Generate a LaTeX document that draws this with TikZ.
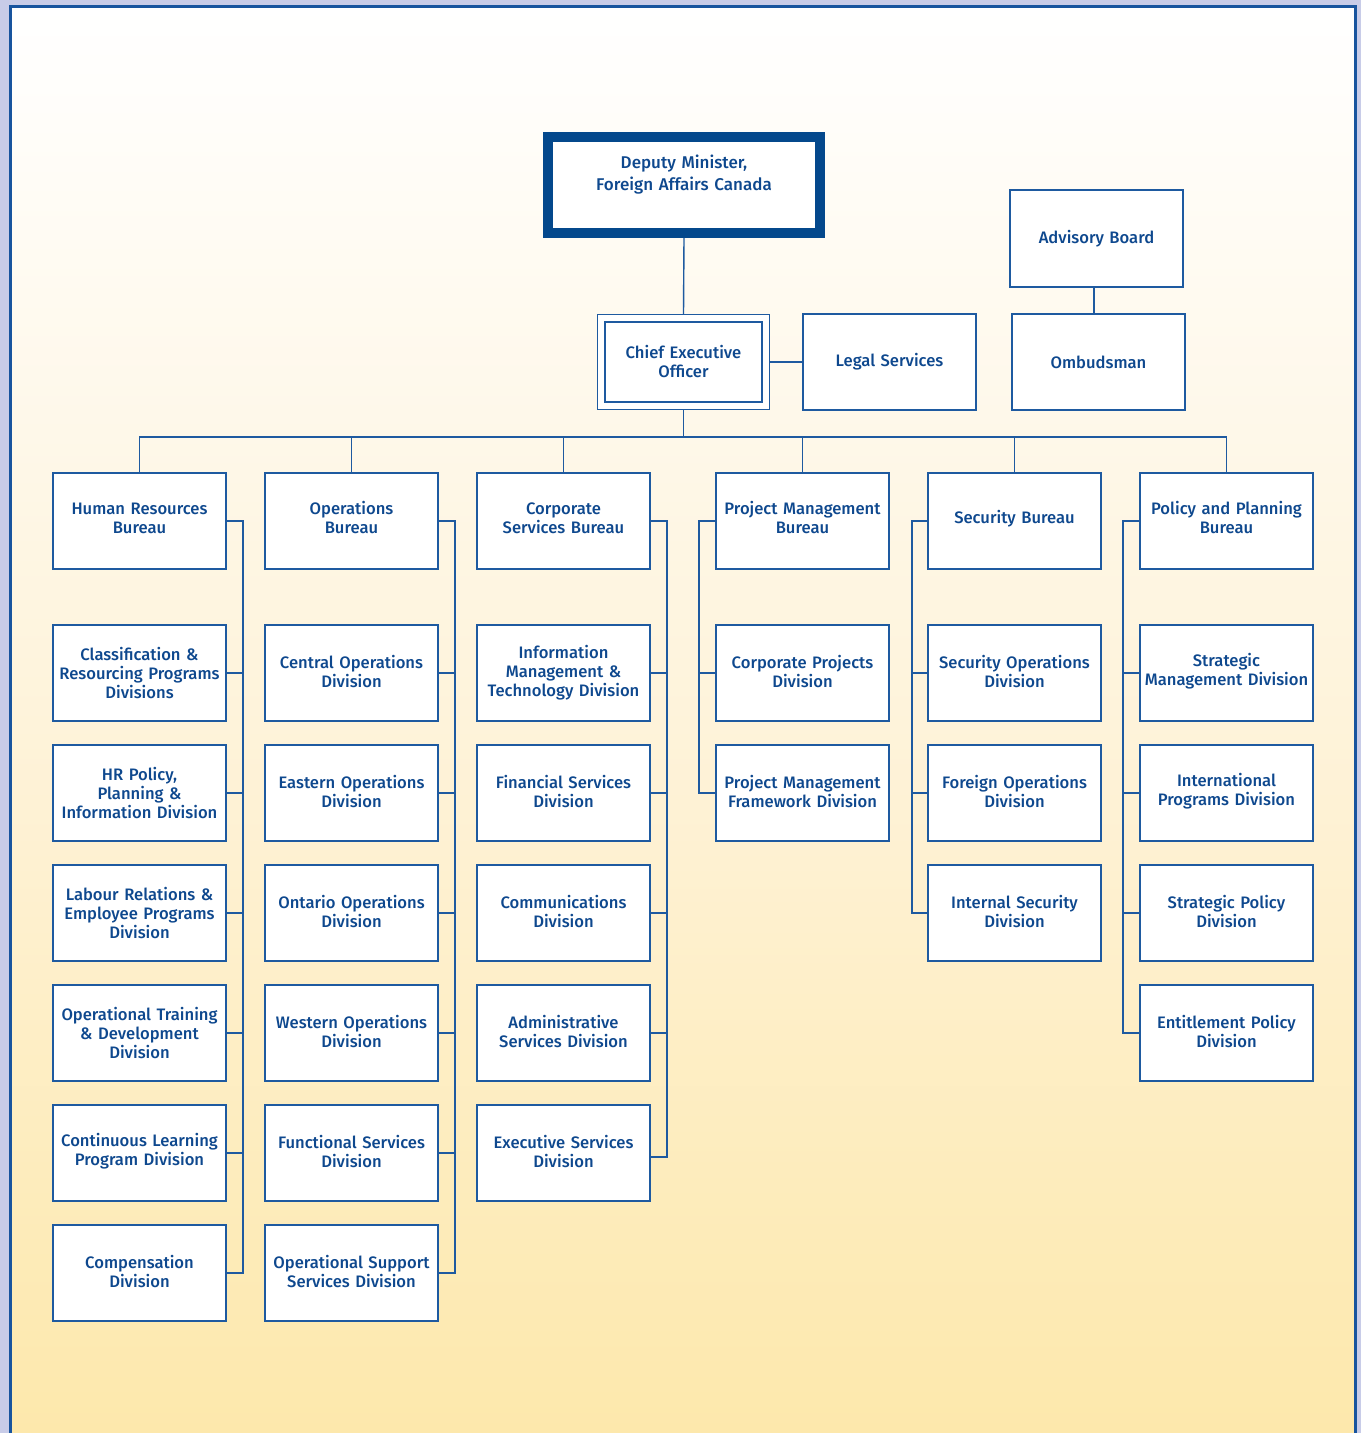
\documentclass[tikz,border=0pt]{standalone}
\usepackage{fontspec}
\setmainfont{Fira Sans}[UprightFont={* Medium}]
\definecolor{lav}{RGB}{200,204,232}
\definecolor{framec}{RGB}{24,84,158}
\definecolor{linec}{RGB}{30,90,160}
\definecolor{textc}{RGB}{14,72,142}
\definecolor{cream}{RGB}{253,232,171}
\definecolor{dmblue}{RGB}{4,72,140}
\newcommand\tup[1]{\par\vspace*{#1}}
\begin{document}
\begin{tikzpicture}[x=1pt,y=-1pt,
  box/.style={draw=linec, line width=1.4pt, fill=white, text width=173pt, inner xsep=0pt,
    minimum width=173pt, minimum height=96pt, align=center, text=textc,
    font=\fontsize{16.6}{19}\selectfont},
  conn/.style={draw=linec, line width=1.4pt}]
\useasboundingbox (0,0) rectangle (1361,1433);
\fill[lav] (0,0) rectangle (1361,1433);
\begin{scope}
\clip (0,0) rectangle (1361,1433);
\shade[top color=white, bottom color=cream, middle color={rgb,255:red,254;green,243;blue,218}] (10.5,6) rectangle (1355,1445);
\draw[framec, line width=3pt] (10.5,1445) -- (10.5,6) -- (1355,6) -- (1355,1445);
\end{scope}

% top level
\node[box, draw=dmblue, line width=10pt, outer sep=5pt, minimum width=272pt, text width=272pt, minimum height=96pt, font=\fontsize{17}{22}\selectfont] (dm) at (684,185) {Deputy Minister,\\Foreign Affairs Canada\tup{20pt}};
\node[box, double=white, double distance=6pt, line width=1.3pt, outer sep=4.3pt, minimum width=164.4pt, text width=164.4pt, minimum height=87.4pt] (ceo) at (683.5,362) {Chief Executive\\Officer};
\node[box] (legal) at (889.5,362) {Legal Services};
\node[box, minimum height=97pt] (ab) at (1096.5,238.5) {Advisory Board};
\node[box] (omb) at (1098.5,362) {Ombudsman};

\draw[conn] (dm.south) -- (ceo.north);
\draw[conn] (ceo.east) -- (legal.west);
\draw[conn] (ab.south -| 1094,0) -- (omb.north -| 1094,0);

% bureaus
\node[box] (hr) at (139.5,521) {Human Resources\\Bureau\tup{6pt}};
\node[box] (ops) at (351.5,521) {Operations\\Bureau\tup{6pt}};
\node[box] (csb) at (563.5,521) {Corporate\\Services Bureau\tup{6pt}};
\node[box] (pmb) at (802.5,521) {Project Management\\Bureau\tup{6pt}};
\node[box] (sb) at (1014.5,521) {Security Bureau\tup{4pt}};
\node[box] (ppb) at (1226.5,521) {Policy and Planning\\Bureau\tup{6pt}};

\coordinate (bus) at (683.5,437);
\draw[conn] (ceo.south) -- (bus);
\draw[conn] (hr.north) |- (bus) -| (ppb.north);
\draw[conn] (ops.north) -- (ops.north |- bus);
\draw[conn] (csb.north) -- (csb.north |- bus);
\draw[conn] (pmb.north) -- (pmb.north |- bus);
\draw[conn] (sb.north) -- (sb.north |- bus);

% column 1
\node[box] (a2) at (139.5,673) {Classification \&\\Resourcing Programs\\Divisions};
\node[box] (a3) at (139.5,793) {HR Policy,\\Planning \&\\Information Division};
\node[box] (a4) at (139.5,913) {Labour Relations \&\\Employee Programs\\Division};
\node[box] (a5) at (139.5,1033) {Operational Training\\\& Development\\Division};
\node[box] (a6) at (139.5,1153) {Continuous Learning\\Program Division\tup{4pt}};
\node[box] (a7) at (139.5,1273) {Compensation\\Division\tup{4pt}};
\coordinate (s1) at (243,1273);
\draw[conn] (hr.east) -| (s1) -- (a7.east);
\foreach \n in {a2,a3,a4,a5,a6} \draw[conn] (\n.east) -- (\n.east -| s1);

% column 2
\node[box] (b2) at (351.5,673) {Central Operations\\Division\tup{4pt}};
\node[box] (b3) at (351.5,793) {Eastern Operations\\Division\tup{4pt}};
\node[box] (b4) at (351.5,913) {Ontario Operations\\Division\tup{4pt}};
\node[box] (b5) at (351.5,1033) {Western Operations\\Division\tup{4pt}};
\node[box] (b6) at (351.5,1153) {Functional Services\\Division\tup{4pt}};
\node[box] (b7) at (351.5,1273) {Operational Support\\Services Division\tup{4pt}};
\coordinate (s2) at (455,1273);
\draw[conn] (ops.east) -| (s2) -- (b7.east);
\foreach \n in {b2,b3,b4,b5,b6} \draw[conn] (\n.east) -- (\n.east -| s2);

% column 3
\node[box] (c2) at (563.5,673) {Information\\Management \&\\Technology Division};
\node[box] (c3) at (563.5,793) {Financial Services\\Division\tup{4pt}};
\node[box] (c4) at (563.5,913) {Communications\\Division\tup{4pt}};
\node[box] (c5) at (563.5,1033) {Administrative\\Services Division\tup{4pt}};
\node[box] (c6) at (563.5,1153) {Executive Services\\Division\tup{4pt}};
\coordinate (s3) at (667,1157);
\draw[conn] (csb.east) -| (s3) -- (c6.east |- s3);
\foreach \n in {c2,c3,c4,c5} \draw[conn] (\n.east) -- (\n.east -| s3);

% column 4
\node[box] (d2) at (802.5,673) {Corporate Projects\\Division\tup{4pt}};
\node[box] (d3) at (802.5,793) {Project Management\\Framework Division\tup{4pt}};
\coordinate (s4) at (699,793);
\draw[conn] (pmb.west) -| (s4) -- (d3.west);
\draw[conn] (d2.west) -- (d2.west -| s4);

% column 5
\node[box] (e2) at (1014.5,673) {Security Operations\\Division\tup{4pt}};
\node[box] (e3) at (1014.5,793) {Foreign Operations\\Division\tup{4pt}};
\node[box] (e4) at (1014.5,913) {Internal Security\\Division\tup{4pt}};
\coordinate (s5) at (912,913);
\draw[conn] (sb.west) -| (s5) -- (e4.west);
\foreach \n in {e2,e3} \draw[conn] (\n.west) -- (\n.west -| s5);

% column 6
\node[box] (f2) at (1226.5,673) {Strategic\\Management Division\tup{4pt}};
\node[box] (f3) at (1226.5,793) {International\\Programs Division\tup{4pt}};
\node[box] (f4) at (1226.5,913) {Strategic Policy\\Division\tup{4pt}};
\node[box] (f5) at (1226.5,1033) {Entitlement Policy\\Division\tup{4pt}};
\coordinate (s6) at (1123,1033);
\draw[conn] (ppb.west) -| (s6) -- (f5.west);
\foreach \n in {f2,f3,f4} \draw[conn] (\n.west) -- (\n.west -| s6);
\end{tikzpicture}
\end{document}
